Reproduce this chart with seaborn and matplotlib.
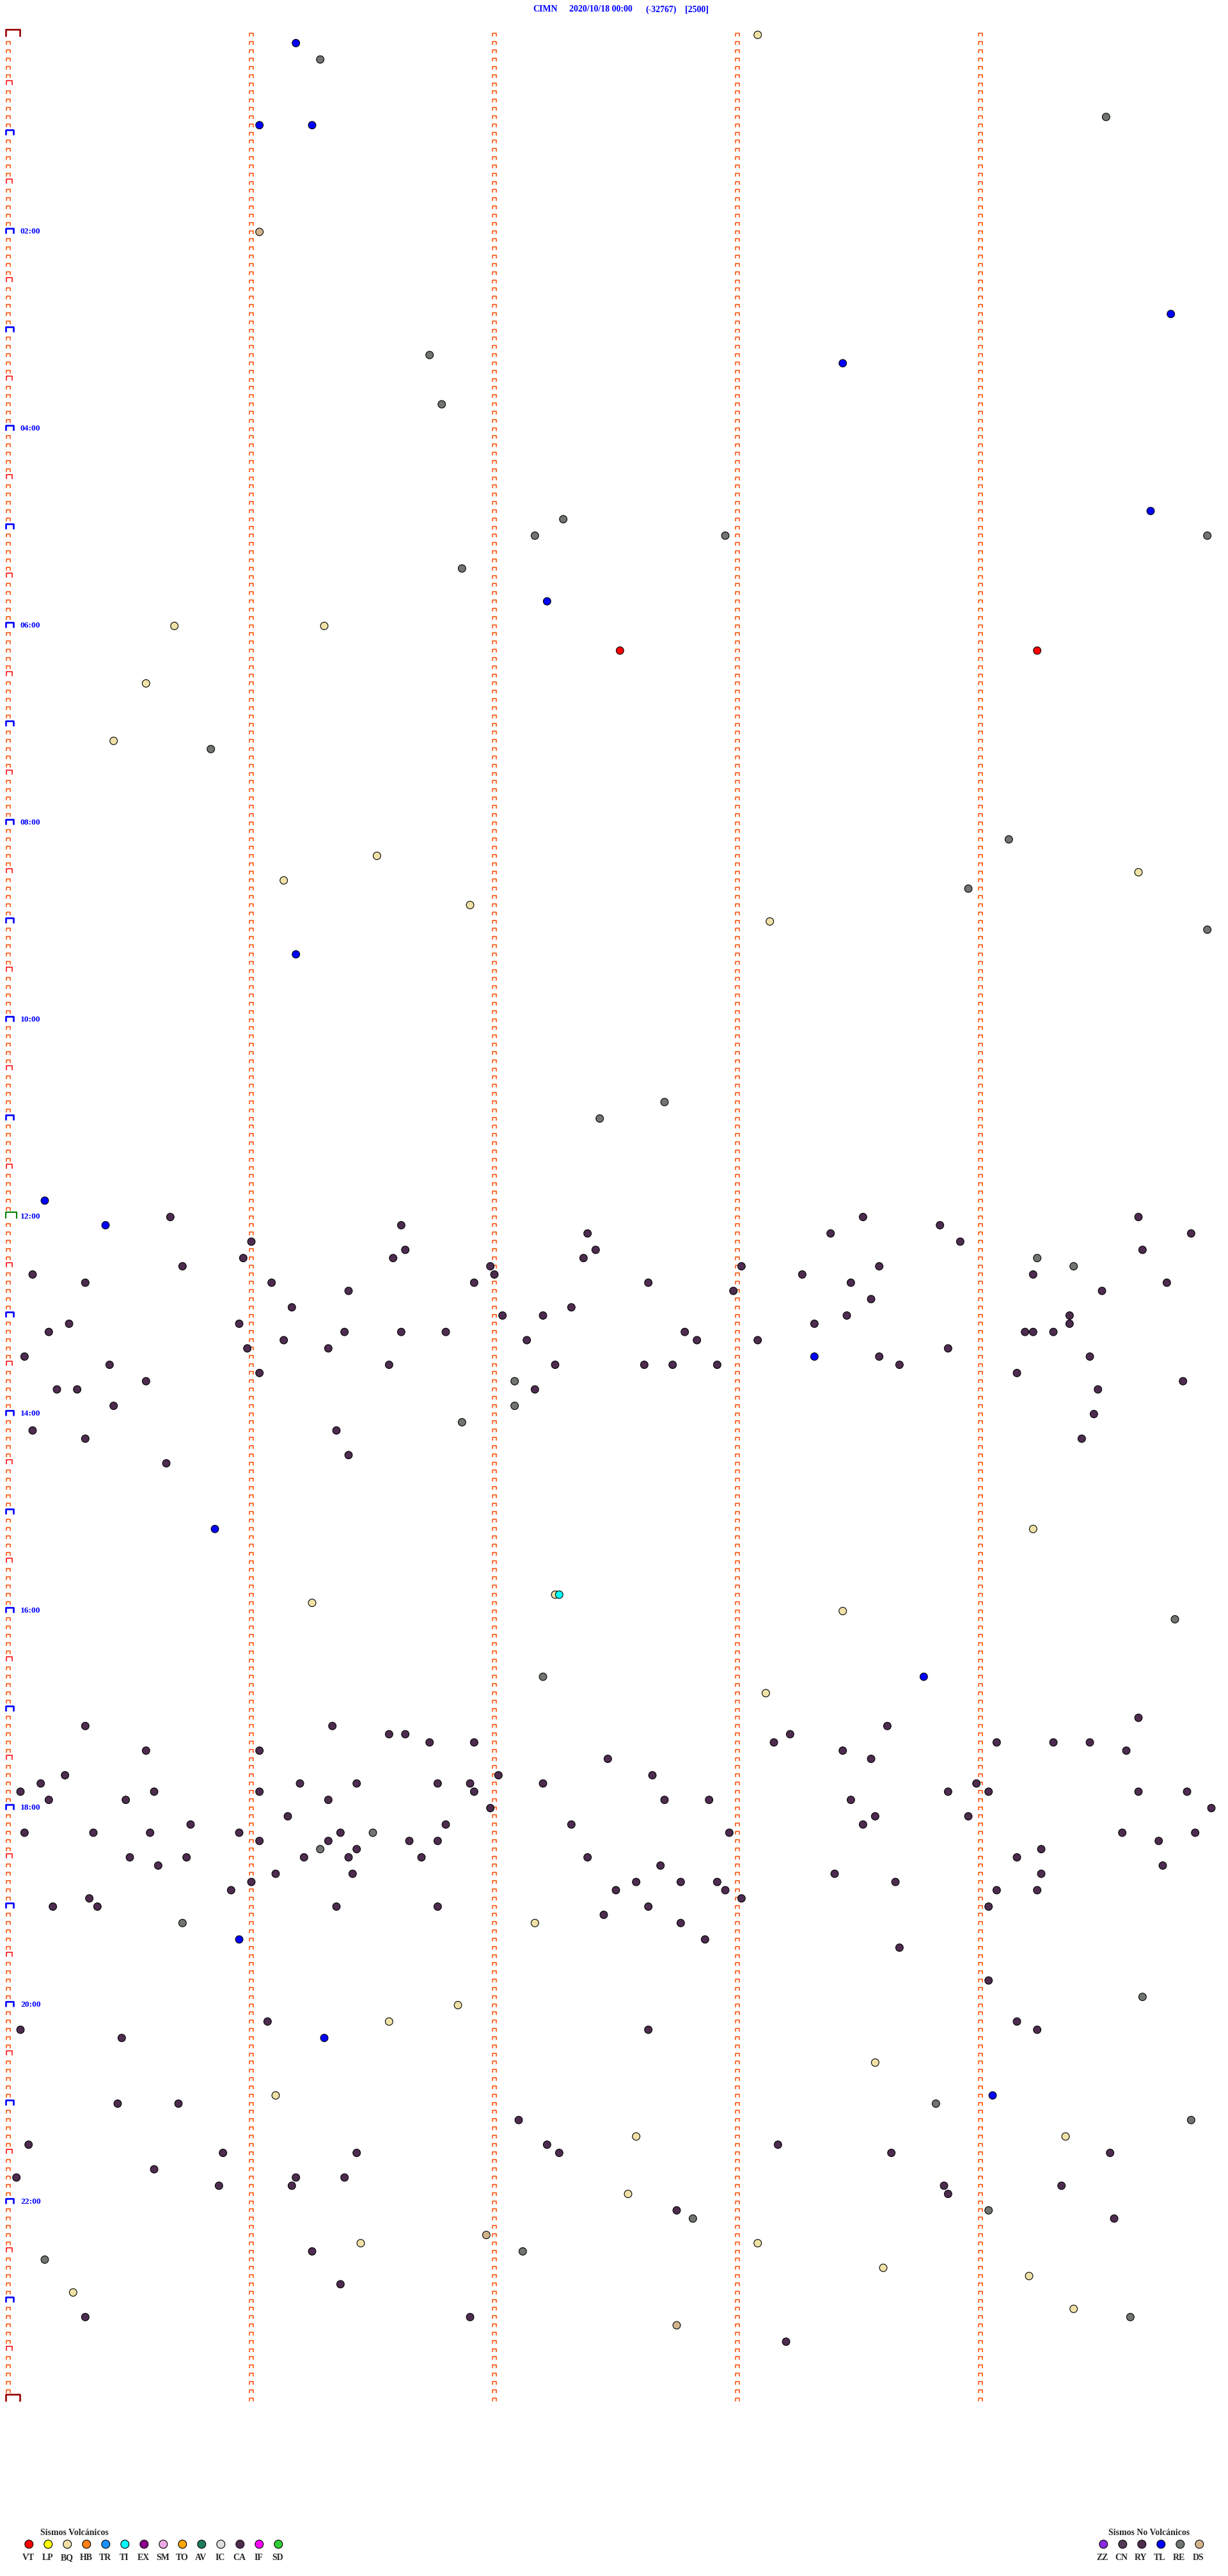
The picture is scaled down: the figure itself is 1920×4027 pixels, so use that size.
import numpy as np
import pandas as pd
import matplotlib
matplotlib.use("Agg")
import matplotlib.pyplot as plt
from matplotlib.path import Path
import seaborn as sns

# cada evento: minuto del dia de la fila (filas de 5 min) y segundo dentro de la fila (0-300)
vt_min = [375, 375]
vt_seg = [151, 254]

bq_min = [0, 360, 360, 395, 430, 500, 510, 515, 530, 540, 910, 955, 950, 960, 1010,
          1150, 1200, 1210, 1235, 1255, 1280, 1280, 1315, 1345, 1345, 1360, 1365, 1375, 1385]
bq_seg = [185, 41, 78, 34, 26, 91, 279, 68, 114, 188, 253, 75, 135, 206, 187,
          130, 111, 94, 214, 66, 261, 155, 153, 87, 185, 216, 252, 16, 263]

ti_min = [950]
ti_seg = [136]

tl_min = [5, 55, 55, 170, 200, 290, 345, 560, 710, 725, 805, 910, 1000, 1160, 1220, 1255]
tl_seg = [71, 62, 75, 287, 206, 282, 133, 71, 9, 24, 199, 51, 226, 57, 78, 243]

re_min = [15, 50, 195, 225, 295, 305, 305, 305, 325, 435, 490, 520, 545, 650, 660, 745, 750,
          820, 835, 845, 965, 1000, 1095, 1105, 1150, 1195, 1260, 1270, 1325, 1330, 1350, 1355, 1390]
re_seg = [77, 271, 104, 107, 137, 130, 177, 296, 112, 50, 247, 237, 296, 162, 146, 254, 263,
          125, 125, 112, 288, 132, 90, 77, 43, 280, 229, 292, 242, 169, 127, 9, 277]

ds_min = [120, 1340, 1395]
ds_seg = [62, 118, 165]

ca_min = [720, 735, 725, 730, 730, 720, 725, 735, 720, 730, 740, 750, 745, 745, 740, 745, 740,
          750, 755, 750, 760, 755, 760, 760, 765, 760, 755, 750, 760, 765, 760, 765, 770, 775,
          775, 780, 780, 780, 780, 785, 785, 790, 785, 785, 790, 790, 790, 755, 790, 790, 790,
          790, 795, 795, 795, 800, 800, 805, 795, 805, 800, 805, 810, 810, 810, 810, 810, 810,
          815, 815, 810, 825, 820, 820, 825, 825, 825, 835, 840, 850, 850, 855, 855, 865, 870,
          1030, 1025, 1030, 1035, 1035, 1040, 1040, 1040, 1035, 1030, 1040, 1040, 1040, 1045,
          1045, 1045, 1045, 1050, 1050, 1060, 1065, 1070, 1070, 1070, 1065, 1065, 1065, 1065,
          1060, 1065, 1060, 1070, 1065, 1070, 1070, 1070, 1070, 1080, 1075, 1075, 1075, 1075,
          1075, 1075, 1080, 1090, 1085, 1085, 1085, 1095, 1095, 1095, 1095, 1090, 1095, 1100,
          1100, 1090, 1100, 1090, 1095, 1095, 1100, 1095, 1105, 1100, 1110, 1110, 1110, 1110,
          1110, 1110, 1115, 1115, 1110, 1105, 1115, 1120, 1120, 1120, 1120, 1125, 1125, 1130,
          1125, 1125, 1130, 1125, 1130, 1130, 1130, 1135, 1135, 1140, 1140, 1140, 1140, 1145,
          1140, 1140, 1150, 1160, 1165,
          1185, 1210, 1210, 1215, 1215, 1215, 1220, 1260, 1260, 1270, 1285, 1285, 1290, 1290,
          1285, 1290, 1290, 1290, 1300, 1305, 1305, 1305, 1310, 1310, 1310, 1310, 1315, 1325,
          1330, 1350, 1370, 1390, 1390, 1405]
ca_seg = [40, 60, 97, 143, 203, 211, 230, 235, 279, 292, 280, 43, 58, 95, 98, 142, 145,
          181, 196, 215, 208, 6, 19, 65, 84, 115, 120, 119, 158, 179, 286, 270, 213, 70,
          139, 122, 132, 207, 262, 57, 15, 10, 199, 262, 251, 253, 258, 253, 83, 97, 108,
          167, 68, 128, 185, 59, 79, 4, 170, 215, 232, 267, 94, 135, 157, 164, 175, 220,
          62, 249, 25, 130, 34, 290, 269, 12, 17, 26, 268, 81, 6, 19, 265, 84, 39,
          19, 279, 80, 94, 98, 104, 115, 189, 193, 217, 244, 258, 267, 276,
          34, 62, 206, 148, 213, 14, 8, 3, 36, 62, 72, 86, 106, 114,
          121, 132, 159, 115, 239, 232, 242, 279, 291, 297, 10, 29, 162, 173,
          208, 79, 119, 211, 214, 237, 69, 82, 4, 21, 35, 45, 57, 62,
          79, 108, 106, 139, 178, 275, 284, 293, 86, 99, 143, 73, 30, 44,
          84, 102, 37, 161, 249, 255, 285, 66, 85, 204, 255, 155, 166, 150,
          175, 219, 55, 60, 177, 244, 254, 20, 181, 11, 22, 81, 106, 147,
          158, 242, 166, 172, 220,
          242, 64, 249, 254, 3, 158, 28, 27, 42, 126, 133, 5, 86, 136,
          190, 218, 272, 53, 36, 71, 83, 2, 260, 70, 52, 231, 232, 165,
          273, 75, 82, 19, 114, 192]

horas = ["02:00", "04:00", "06:00", "08:00", "10:00", "12:00",
         "14:00", "16:00", "18:00", "20:00", "22:00"]
horas_min = [120, 240, 360, 480, 600, 720, 840, 960, 1080, 1200, 1320]

volc_cod = ["VT", "LP", "BQ", "HB", "TR", "TI", "EX", "SM", "TO", "AV", "IC", "CA", "IF", "SD"]
volc_col = ["#FF0000", "#FFFF00", "#F0E2A6", "#FF8010", "#1E90FF", "#00FFFF", "#8B008B",
            "#EEAAE6", "#FFA500", "#1E7B60", "#DDDDDD", "#4D2C4F", "#FF00FF", "#32CD32"]
novolc_cod = ["ZZ", "CN", "RY", "TL", "RE", "DS"]
novolc_col = ["#8A2BE2", "#553A58", "#4D2C4F", "#0000FF", "#707570", "#D2B48C"]

colores = dict(zip(volc_cod + novolc_cod, volc_col + novolc_col))

# tabla de eventos
partes = []
for cod, mm, ss in [("RE", re_min, re_seg), ("TL", tl_min, tl_seg), ("DS", ds_min, ds_seg),
                    ("VT", vt_min, vt_seg), ("BQ", bq_min, bq_seg), ("CA", ca_min, ca_seg),
                    ("TI", ti_min, ti_seg)]:
    partes.append(pd.DataFrame({"minuto": mm, "segundo": ss, "tipo": cod}))
eventos = pd.concat(partes, ignore_index=True)

sns.set_style("white")
plt.rcParams['font.family'] = ['Liberation Serif', 'DejaVu Serif']

W, H = 1920, 4027
PX_SEG = 380 / 60      # px por segundo
PX_MIN = 2.5667        # px por minuto
X0, Y0 = 13, 54.5

fig = plt.figure(figsize=(W / 100, H / 100), dpi=100)
ax = fig.add_axes([0, 0, 1, 1])
ax.set_xlim(-X0 / PX_SEG, (W - X0) / PX_SEG)
ax.set_ylim((H - Y0) / PX_MIN, -Y0 / PX_MIN)
ax.axis('off')


# corchete abierto hacia abajo (px relativos al punto de la fila)
def gancho(x0, x1, arriba, abajo):
    verts = [(x0, -abajo), (x0, arriba), (x1, arriba), (x1, -abajo)]
    p = Path(verts, [Path.MOVETO, Path.LINETO, Path.LINETO, Path.LINETO])
    return p, 2 * np.max(np.abs(verts)) * 0.72


filas = np.arange(0, 1445, 5)
columnas = [0, 60, 120, 180, 240]

marcas = {
    "chica": (gancho(-3, 3, 2.5, 2.5), "#FF4A00", 1.1),
    "media": (gancho(-3, 5.7, 6.5, 0.8), "#FF0000", 1.1),
    "hora": (gancho(-4, 7.7, 6.5, 1.8), "#0000FF", 1.9),
    "borde": (gancho(-4, 17.7, 7.5, 2.5), "#990000", 1.9),
    "medio_dia": (gancho(-4, 12.7, 8.2, 1.8), "#008000", 1.5),
}


def clase(col, m):
    if col != 0 or m % 30:
        return "chica"
    if m in (0, 1440):
        return "borde"
    if m == 720:
        return "medio_dia"
    if m % 60 == 0:
        return "hora"
    return "media"


for nombre, ((path, size), color, lw) in marcas.items():
    xs, ys = [], []
    for c in columnas:
        for m in filas:
            if clase(c, m) == nombre:
                xs.append(c)
                ys.append(m)
    ax.plot(xs, ys, linestyle='none', marker=path, markersize=size,
            markeredgecolor=color, markerfacecolor='none', markeredgewidth=lw)

# eventos
sns.scatterplot(data=eventos, x="segundo", y="minuto", hue="tipo", palette=colores,
                s=72, edgecolor="black", linewidth=0.8, legend=False, ax=ax, zorder=5)
ax.set_xlim(-X0 / PX_SEG, (W - X0) / PX_SEG)
ax.set_ylim((H - Y0) / PX_MIN, -Y0 / PX_MIN)
ax.axis('off')

# etiquetas de hora
for h, m in zip(horas, horas_min):
    ax.text((32 - X0) / PX_SEG, m + 0.8, h, color="#0000FF", fontsize=9.7,
            fontweight="bold", ha="left", va="baseline")

# capa en pixeles para titulo y leyendas
lay = fig.add_axes([0, 0, 1, 1])
lay.set_xlim(0, W)
lay.set_ylim(H, 0)
lay.axis('off')
lay.patch.set_alpha(0)

for txt, x in [("CIMN", 833), ("2020/10/18 00:00", 890), ("(-32767)", 1009), ("[2500]", 1071)]:
    lay.text(x, 18.5, txt, color="#0000FF", fontsize=10, fontweight="bold",
             ha="left", va="baseline")

lay.text(63, 3962.5, "Sismos Volcánicos", fontsize=10, fontweight="bold", ha="left", va="baseline")
vx = [45.3 + 30 * i for i in range(len(volc_cod))]
lay.scatter(vx, [3977.3] * len(vx), s=86, c=volc_col, edgecolors="black", linewidths=0.8)
for x, cod in zip(vx, volc_cod):
    lay.text(x - 1, 4001.7, cod, fontsize=10, fontweight="bold", ha="center", va="baseline")

lay.text(1733, 3962.5, "Sismos No Volcánicos", fontsize=10, fontweight="bold", ha="left", va="baseline")
nx = [1725.3 + 30 * i for i in range(len(novolc_cod))]
lay.scatter(nx, [3977.3] * len(nx), s=86, c=novolc_col, edgecolors="black", linewidths=0.8)
for x, cod in zip(nx, novolc_cod):
    lay.text(x - 2, 4001.7, cod, fontsize=10, fontweight="bold", ha="center", va="baseline")

fig.savefig("out.png", dpi=100, facecolor="white")
